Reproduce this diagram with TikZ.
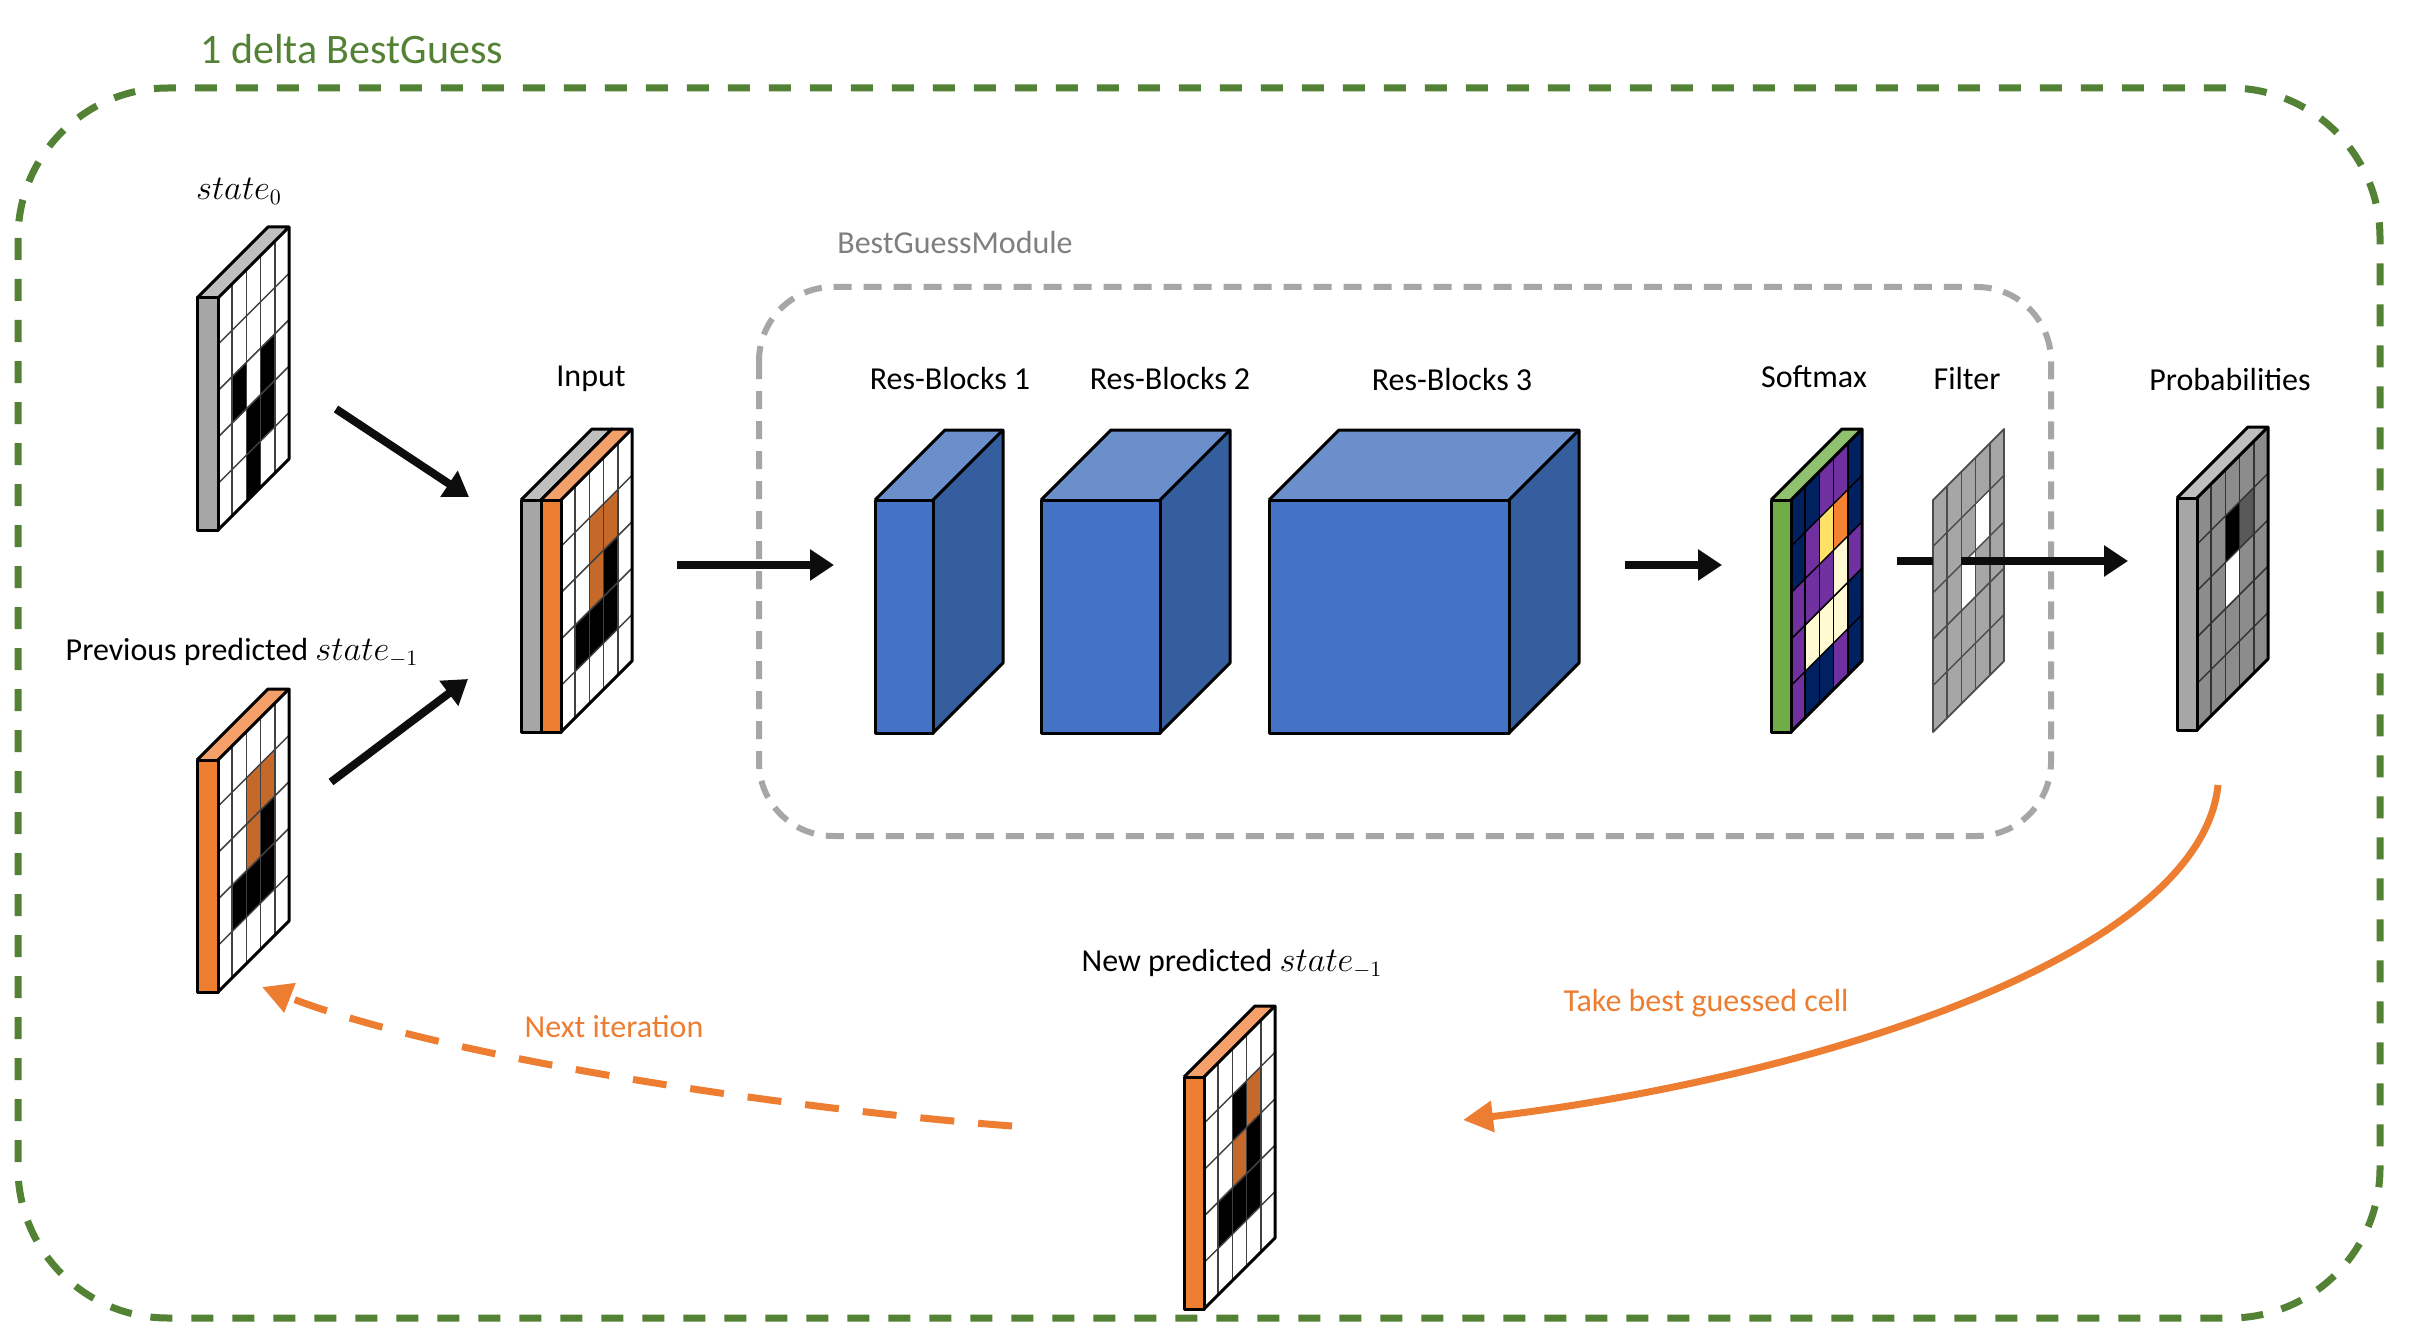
\documentclass[tikz,border=0pt]{standalone}
\usepackage{fontspec}
\setmainfont{Carlito}
\usetikzlibrary{arrows.meta}
\definecolor{dgreen}{RGB}{84,130,53}
\definecolor{mgray}{RGB}{166,166,166}
\definecolor{txtgray}{RGB}{127,127,127}
\definecolor{orng}{RGB}{237,125,49}
\definecolor{orngtop}{RGB}{244,160,106}
\definecolor{brwn}{RGB}{197,105,42}
\definecolor{grn}{RGB}{112,173,71}
\definecolor{grntop}{RGB}{143,193,110}
\definecolor{gtop}{RGB}{191,191,191}
\definecolor{bfront}{RGB}{68,114,196}
\definecolor{btop}{RGB}{106,143,203}
\definecolor{bside}{RGB}{53,94,159}
\definecolor{navy}{RGB}{0,32,96}
\definecolor{purp}{RGB}{112,48,160}
\definecolor{yel}{RGB}{255,224,102}
\definecolor{sorng}{RGB}{245,130,48}
\definecolor{crm}{RGB}{255,250,210}
\definecolor{pgray}{RGB}{140,140,140}
\definecolor{pdark}{RGB}{89,89,89}
\definecolor{arrblack}{RGB}{13,13,13}
% cell (x0,y0,c,r,color)
\newcommand{\gcell}[5]{%
 \fill[#5] ({#1+#3*14.2},{#2+#4*46.4-#3*14.2}) -- ({#1+(#3+1)*14.2},{#2+#4*46.4-(#3+1)*14.2}) -- ({#1+(#3+1)*14.2},{#2+(#4+1)*46.4-(#3+1)*14.2}) -- ({#1+#3*14.2},{#2+(#4+1)*46.4-#3*14.2}) -- cycle;}
\newcommand{\gface}[3]{%
 \fill[#3] (#1,#2) -- ({#1+71},{#2-71}) -- ({#1+71},{#2+232-71}) -- (#1,{#2+232}) -- cycle;}
\newcommand{\glines}[3]{%
 \foreach \i in {1,...,4}{
  \draw[#3, line width=0.75pt] ({#1+\i*14.2},{#2-\i*14.2}) -- ({#1+\i*14.2},{#2+232-\i*14.2});
  \draw[#3, line width=0.75pt] (#1,{#2+\i*46.4}) -- ({#1+71},{#2+\i*46.4-71});
 }}
\newcommand{\gedge}[2]{%
 \draw[line width=1.5pt, line join=round] (#1,{#2+232}) -- ({#1+71},{#2+232-71}) -- ({#1+71},{#2-71});}
% side bar (xl,xr,y0,front,top)
\newcommand{\sidebar}[5]{%
 \fill[#4] (#1,#3) rectangle (#2,{#3+232});
 \fill[#5] (#1,#3) -- (#2,#3) -- ({#2+71},{#3-71}) -- ({#1+71},{#3-71}) -- cycle;
 \draw[line width=1.5pt, line join=round] (#1,#3) rectangle (#2,{#3+232});
 \draw[line width=1.5pt, line join=round] (#1,#3) -- ({#1+71},{#3-71}) -- ({#2+71},{#3-71}) -- (#2,#3);}
% res block (xl,xr,ytop,ybot)
\newcommand{\resblock}[4]{%
 \fill[bfront] (#1,#3) rectangle (#2,#4);
 \fill[btop] (#1,#3) -- (#2,#3) -- ({#2+70},{#3-70}) -- ({#1+70},{#3-70}) -- cycle;
 \fill[bside] (#2,#3) -- ({#2+70},{#3-70}) -- ({#2+70},{#4-70}) -- (#2,#4) -- cycle;
 \draw[line width=1.5pt, line join=round] (#1,#3) rectangle (#2,#4);
 \draw[line width=1.5pt, line join=round] (#1,#3) -- ({#1+70},{#3-70}) -- ({#2+70},{#3-70}) -- ({#2+70},{#4-70}) -- (#2,#4);
 \draw[line width=1.5pt] (#2,#3) -- ({#2+70},{#3-70});}
\begin{document}
\begin{tikzpicture}[x=0.5pt,y=-0.5pt,
  lbl/.style={font=\fontsize{16}{19}\selectfont, inner sep=0pt},
  blkline/.style={draw=arrblack, line width=4pt},
  blkarrow/.style={draw=arrblack, line width=4pt, -{Triangle[length=12pt,width=15pt]}, arrblack},
  orarrow/.style={draw=orng, line width=3.5pt, -{Triangle[length=15pt,width=15pt]}, orng}]
\useasboundingbox (0,0) rectangle (2415,1337);
\fill[white] (0,0) rectangle (2415,1337);
% frames
\draw[dgreen, line width=3.5pt, dash pattern=on 11pt off 9.5pt] (18,88) [rounded corners=75pt] rectangle (2380,1318);
\draw[mgray, line width=3pt, dash pattern=on 9pt off 6pt] (759,287) [rounded corners=37pt] rectangle (2051,836);
\node[font=\fontsize{21}{25}\selectfont, text=dgreen, anchor=west, inner sep=0pt] (title) at (200,49) {1 delta BestGuess};
\node[lbl, text=txtgray] (bgm) at (955,243) {BestGuessModule};

% ---------- state0 ----------
\gface{218}{298}{white}
\foreach \c/\r in {1/2,2/3,2/4,3/2,3/3}{\gcell{218}{298}{\c}{\r}{black}}
\glines{218}{298}{black!75}
\gedge{218}{298}
\sidebar{197}{218}{298}{mgray}{gtop}
\node[lbl] (ls0) at (239,191) {$state_0$};

% ---------- previous state ----------
\gface{218}{760}{white}
\foreach \c/\r in {1/3,2/3,3/2,3/3}{\gcell{218}{760}{\c}{\r}{black}}
\foreach \c/\r in {2/1,2/2,3/1}{\gcell{218}{760}{\c}{\r}{brwn}}
\glines{218}{760}{black!75}
\gedge{218}{760}
\sidebar{197}{218}{760}{orng}{orngtop}
\node[lbl] (lprev) at (242,653) {Previous predicted $state_{-1}$};

% ---------- input ----------
\gface{561}{500}{white}
\foreach \c/\r in {1/3,2/3,3/2,3/3}{\gcell{561}{500}{\c}{\r}{black}}
\foreach \c/\r in {2/1,2/2,3/1}{\gcell{561}{500}{\c}{\r}{brwn}}
\glines{561}{500}{black!75}
\gedge{561}{500}
\sidebar{521}{541}{500}{mgray}{gtop}
\sidebar{541}{561}{500}{orng}{orngtop}
\node[lbl] (lin) at (591,379) {Input};

% ---------- res blocks ----------
\resblock{875}{933}{500}{733}
\resblock{1041}{1160}{500}{733}
\resblock{1269}{1509}{500}{733}
\node[lbl] (lrb1) at (950,379) {Res-Blocks 1};
\node[lbl] (lrb2) at (1170,379) {Res-Blocks 2};
\node[lbl] (lrb3) at (1452,380) {Res-Blocks 3};

% ---------- softmax ----------
\gface{1791}{500}{navy}
\foreach \c/\r/\col in {0/2/purp,0/3/purp,0/4/purp,
  1/1/purp,1/2/purp,1/3/crm,
  2/0/purp,2/1/yel,2/2/purp,2/3/crm,
  3/0/purp,3/1/sorng,3/2/crm,3/3/crm,3/4/purp,
  4/2/purp}{\gcell{1791}{500}{\c}{\r}{\col}}
\glines{1791}{500}{black}
\gedge{1791}{500}
\sidebar{1771}{1791}{500}{grn}{grntop}
\node[lbl] (lsm) at (1814,377) {Softmax};

% ---------- filter ----------
\gface{1933}{500}{mgray}
\foreach \c/\r in {3/1,2/2}{\gcell{1933}{500}{\c}{\r}{white}}
\glines{1933}{500}{black!70}
\draw[black!70, line width=0.9pt, line join=round] (1933,500) -- (2004,429) -- (2004,661) -- (1933,732) -- cycle;
\node[lbl] (lfi) at (1967,379) {Filter};

% ---------- probabilities ----------
\gface{2197}{498}{pgray}
\gcell{2197}{498}{2}{1}{black}
\gcell{2197}{498}{3}{1}{pdark}
\gcell{2197}{498}{2}{2}{white}
\glines{2197}{498}{black!80}
\gedge{2197}{498}
\sidebar{2177}{2197}{498}{mgray}{gtop}
\node[lbl] (lpr) at (2230,380) {Probabilities};

% ---------- new predicted ----------
\gface{1204}{1077}{white}
\foreach \c/\r in {1/3,2/1,2/3,3/2,3/3}{\gcell{1204}{1077}{\c}{\r}{black}}
\foreach \c/\r in {2/2,3/1}{\gcell{1204}{1077}{\c}{\r}{brwn}}
\glines{1204}{1077}{black!75}
\gedge{1204}{1077}
\sidebar{1184}{1204}{1077}{orng}{orngtop}
\node[lbl] (lnew) at (1232,964) {New predicted $state_{-1}$};

% ---------- connectors ----------
\coordinate (s0out) at (336,409);
\coordinate (inA) at (469,497);
\coordinate (prout) at (331,782);
\coordinate (inB) at (468,679);
\coordinate (inout) at (677,565);
\coordinate (rbin) at (834,565);
\coordinate (rbout) at (1625,565);
\coordinate (smin) at (1722,565);
\coordinate (fa0) at (1897,561);
\coordinate (fa1) at (1933,561);
\coordinate (fa2) at (1961,561);
\coordinate (prin) at (2128,561);
\coordinate (tb1) at (2218,785);
\coordinate (tb2) at (1463,1120);
\coordinate (ni1) at (1012,1126);
\coordinate (ni2) at (262,987);
\draw[blkarrow] (s0out) -- (inA);
\draw[blkarrow] (prout) -- (inB);
\draw[blkarrow] (inout) -- (rbin);
\draw[blkarrow] (rbout) -- (smin);
\draw[blkline] (fa0) -- (fa1);
\draw[blkarrow] (fa2) -- (prin);
\draw[orarrow] (tb1) .. controls (2200,960) and (1800,1080) .. (tb2);
\draw[orarrow, dash pattern=on 17pt off 12pt] (ni1) .. controls (800,1110) and (450,1060) .. (ni2);
\node[lbl, text=orng] (lnext) at (614,1027) {Next iteration};
\node[lbl, text=orng] (ltake) at (1706,1003) {Take best guessed cell};
\end{tikzpicture}
\end{document}
